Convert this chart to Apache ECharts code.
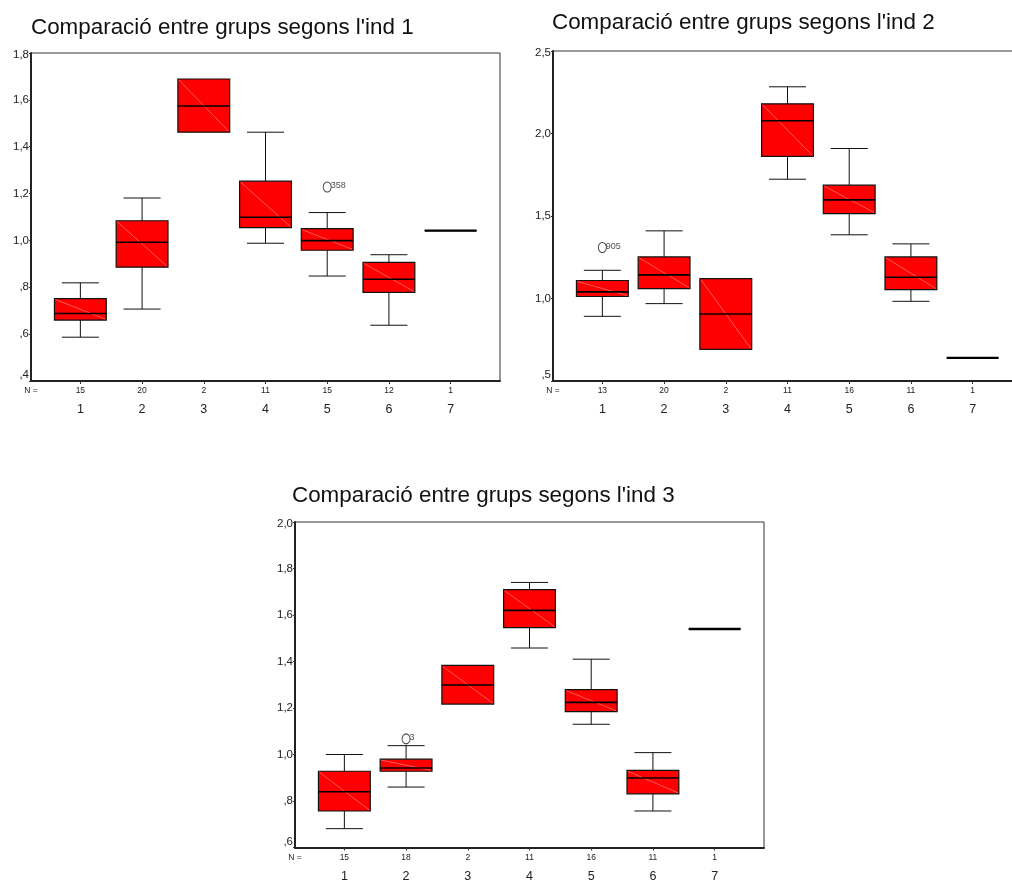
<!DOCTYPE html>
<html>
<head>
<meta charset="utf-8">
<script src="https://cdn.jsdelivr.net/npm/echarts@6/dist/echarts.min.js"></script>
<style>
  html, body { margin: 0; padding: 0; background: #fff; overflow: hidden; }
  /* the second panel's frame runs slightly past the right edge of the window */
  #chart { width: 1040px; height: 883px; }
</style>
</head>
<body>
<div id="chart"></div>
<script>
// Groups on the x axis
const groups = [1, 2, 3, 4, 5, 6, 7];

// Group sizes printed under each axis
const n1 = [15, 20, 2, 11, 15, 12, 1];
const n2 = [13, 20, 2, 11, 16, 11, 1];
const n3 = [15, 18, 2, 11, 16, 11, 1];

// Box statistics per group: [lower whisker, Q1, median, Q3, upper whisker]
const box1 = [
  [0.587, 0.660, 0.688, 0.752, 0.819],
  [0.707, 0.886, 0.992, 1.084, 1.181],
  [1.462, 1.462, 1.574, 1.689, 1.689],
  [0.988, 1.055, 1.099, 1.253, 1.462],
  [0.848, 0.958, 0.999, 1.050, 1.119],
  [0.638, 0.778, 0.834, 0.906, 0.939],
  [1.042, 1.042, 1.042, 1.042, 1.042]
];
const box2 = [
  [0.892, 1.012, 1.040, 1.109, 1.171],
  [0.969, 1.060, 1.143, 1.252, 1.410],
  [0.692, 0.692, 0.906, 1.121, 1.121],
  [1.723, 1.861, 2.077, 2.180, 2.283],
  [1.386, 1.515, 1.598, 1.687, 1.909],
  [0.983, 1.054, 1.129, 1.252, 1.331],
  [0.640, 0.640, 0.640, 0.640, 0.640]
];
const box3 = [
  [0.681, 0.757, 0.840, 0.928, 1.000],
  [0.860, 0.928, 0.942, 0.980, 1.038],
  [1.217, 1.217, 1.299, 1.383, 1.383],
  [1.458, 1.546, 1.620, 1.709, 1.740],
  [1.130, 1.184, 1.224, 1.279, 1.410],
  [0.757, 0.831, 0.899, 0.932, 1.008],
  [1.540, 1.540, 1.540, 1.540, 1.540]
];

// Outliers: [group, value, case id]
const out1 = [[5, 1.228, '358']];
const out2 = [[1, 1.309, '905']];
const out3 = [[2, 1.067, '3']];

// Titles and value-axis ranges [min, max, step]
const titles = [
  "Comparació entre grups segons l'ind 1",
  "Comparació entre grups segons l'ind 2",
  "Comparació entre grups segons l'ind 3"
];
const yRanges = [[0.4, 1.8, 0.2], [0.5, 2.5, 0.5], [0.6, 2.0, 0.2]];

const FONT = '"Liberation Sans", Arial, sans-serif';
const BOX_W = 0.84;   // box width in group units
const CAP_W = 0.6;    // whisker cap width in group units

function fmtY(v) {
  let s = v.toFixed(1).replace('.', ',');
  if (s.charAt(0) === '0') s = s.slice(1);
  return s;
}

function renderBox(params, api) {
  const x = api.value(0);
  const lo = api.value(1), q1 = api.value(2), med = api.value(3), q3 = api.value(4), hi = api.value(5);
  const half = api.size([BOX_W / 2, 0])[0];
  const cap = api.size([CAP_W / 2, 0])[0];
  const pLo = api.coord([x, lo]);
  const pQ1 = api.coord([x, q1]);
  const pMed = api.coord([x, med]);
  const pQ3 = api.coord([x, q3]);
  const pHi = api.coord([x, hi]);
  const cx = pMed[0];
  const stroke = { stroke: '#111', lineWidth: 1 };
  const children = [];
  if (hi > q3) {
    children.push({ type: 'line', shape: { x1: cx, y1: pQ3[1], x2: cx, y2: pHi[1] }, style: stroke });
    children.push({ type: 'line', shape: { x1: cx - cap, y1: pHi[1], x2: cx + cap, y2: pHi[1] }, style: stroke });
  }
  if (lo < q1) {
    children.push({ type: 'line', shape: { x1: cx, y1: pQ1[1], x2: cx, y2: pLo[1] }, style: stroke });
    children.push({ type: 'line', shape: { x1: cx - cap, y1: pLo[1], x2: cx + cap, y2: pLo[1] }, style: stroke });
  }
  const top = pQ3[1], bottom = pQ1[1];
  children.push({
    type: 'rect',
    shape: { x: cx - half, y: top, width: half * 2, height: bottom - top },
    style: { fill: '#ff0000', stroke: '#111', lineWidth: 1.2 }
  });
  if (bottom - top > 2) {
    children.push({
      type: 'line',
      shape: { x1: cx - half + 1, y1: top + 1, x2: cx + half - 1, y2: bottom - 1 },
      style: { stroke: 'rgba(255,190,190,0.8)', lineWidth: 0.6 }
    });
  }
  children.push({
    type: 'line',
    shape: { x1: cx - half, y1: pMed[1], x2: cx + half, y2: pMed[1] },
    style: { stroke: '#000', lineWidth: (bottom - top > 2) ? 1.6 : 2.4 }
  });
  return { type: 'group', children: children };
}

const grids = [
  { left: 31, top: 53, width: 469, height: 328 },
  { left: 553, top: 51, width: 469, height: 330 },
  { left: 295, top: 522, width: 469, height: 329 }
];
const nLists = [n1, n2, n3];
const boxes = [box1, box2, box3];
const outs = [out1, out2, out3];
const titlePos = [[31, 17], [552, 12], [292, 485]];

const option = {
  animation: false,
  backgroundColor: '#fff',
  title: titles.map((t, i) => ({
    text: t,
    left: titlePos[i][0],
    top: titlePos[i][1],
    padding: 0,
    textStyle: { fontFamily: FONT, fontSize: 22.4, fontWeight: 'normal', color: '#111' }
  })),
  grid: grids.map(g => Object.assign({ show: true, borderColor: '#333', borderWidth: 1, backgroundColor: '#fff' }, g)),
  xAxis: grids.map((g, i) => ({
    type: 'value',
    gridIndex: i,
    min: 0.2,
    max: 7.8,
    splitLine: { show: false },
    axisLine: { show: true, lineStyle: { color: '#222', width: 2 } },
    axisTick: { show: true, length: 3, customValues: groups, lineStyle: { color: '#333' } },
    axisLabel: {
      show: true,
      margin: 4,
      customValues: [0.2].concat(groups),
      formatter: function (v) {
        if (v < 0.5) return '{n|N =}\n{c| }';
        const k = Math.round(v);
        return '{n|' + nLists[i][k - 1] + '}\n{c|' + k + '}';
      },
      rich: {
        n: { fontFamily: FONT, fontSize: 8.5, color: '#222', lineHeight: 12 },
        c: { fontFamily: FONT, fontSize: 12.5, color: '#222', lineHeight: 26 }
      }
    }
  })),
  yAxis: grids.map((g, i) => {
    const [mn, mx, step] = yRanges[i];
    return {
      type: 'value',
      gridIndex: i,
      min: mn,
      max: mx,
      interval: step,
      splitLine: { show: false },
      axisLine: { show: true, lineStyle: { color: '#222', width: 2 } },
      axisTick: { show: true, length: 2, lineStyle: { color: '#333' } },
      axisLabel: {
        margin: 2,
        fontFamily: FONT,
        fontSize: 11.5,
        color: '#222',
        formatter: function (v) {
          const s = fmtY(v);
          if (Math.abs(v - mn) < 1e-6) return '{lo|' + s + '}';
          if (Math.abs(v - mx) < 1e-6) return '{hi|' + s + '}';
          return s;
        },
        rich: {
          lo: { fontFamily: FONT, fontSize: 11.5, color: '#222', padding: [0, 0, 12, 0] },
          hi: { fontFamily: FONT, fontSize: 11.5, color: '#222', padding: [4, 0, 0, 0] }
        }
      }
    };
  }),
  series: []
};

boxes.forEach((b, i) => {
  option.series.push({
    type: 'custom',
    xAxisIndex: i,
    yAxisIndex: i,
    renderItem: renderBox,
    encode: { x: 0, y: [1, 2, 3, 4, 5] },
    data: b.map((s, k) => [groups[k]].concat(s)),
    z: 2
  });
  option.series.push({
    type: 'scatter',
    xAxisIndex: i,
    yAxisIndex: i,
    symbol: 'circle',
    symbolSize: [8, 10],
    itemStyle: { color: 'rgba(255,255,255,0)', borderColor: '#111', borderWidth: 1 },
    label: {
      show: true,
      position: 'right',
      distance: -1,
      offset: [0, -1],
      formatter: p => p.value[2],
      fontFamily: FONT,
      fontSize: 9,
      color: '#222'
    },
    data: outs[i],
    z: 3
  });
});

const chart = echarts.init(document.getElementById('chart'), null, { renderer: 'canvas' });
chart.setOption(option);
</script>
</body>
</html>
